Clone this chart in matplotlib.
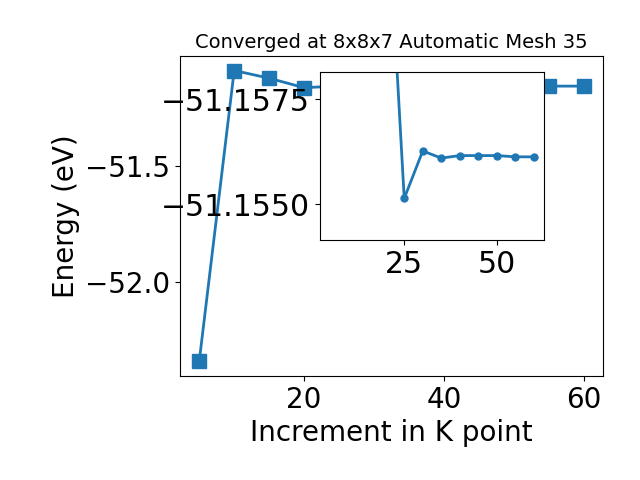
import matplotlib
matplotlib.use("Agg")
import matplotlib.pyplot as plt

# k-point increments and total energies (eV)
kpoints = [5, 10, 15, 20, 25, 30, 35, 40, 45, 50, 55, 60]
energies = [-52.340, -51.089, -51.122, -51.163, -51.15514, -51.15627,
            -51.15610, -51.15616, -51.15616, -51.15616, -51.15613, -51.15613]

inset_start = 3  # inset shows the tail from 20 onwards
inset_xticks = [25, 50]
inset_yticks = [-51.1575, -51.1550]
main_yticks = [-52.0, -51.5]

fig = plt.figure(figsize=(6.4, 4.8), dpi=100)
ax = fig.add_axes([0.28125, 0.2167, 0.661, 0.6667])
ax.plot(kpoints, energies, marker='s', markersize=10, linewidth=2)
ax.set_xlabel("Increment in K point", fontsize=20)
ax.set_ylabel("Energy (eV)", fontsize=20)
ax.set_title("Converged at 8x8x7 Automatic Mesh 35", fontsize=14)
ax.set_yticks(main_yticks)
ax.tick_params(labelsize=20)

# zoomed inset of the converged tail
axins = fig.add_axes([0.5, 0.5, 0.35, 0.35])
axins.plot(kpoints[inset_start:], energies[inset_start:], marker='o',
           markersize=5, linewidth=2)
axins.set_xlim(2.25, 62.75)
axins.set_ylim(-51.15415, -51.15815)
axins.set_xticks(inset_xticks)
axins.set_yticks(inset_yticks)
axins.set_yticklabels([f"{v:.4f}".replace("-", "\u2212") for v in inset_yticks])
axins.tick_params(labelsize=21.5)

fig.savefig("out.png", dpi=100)
